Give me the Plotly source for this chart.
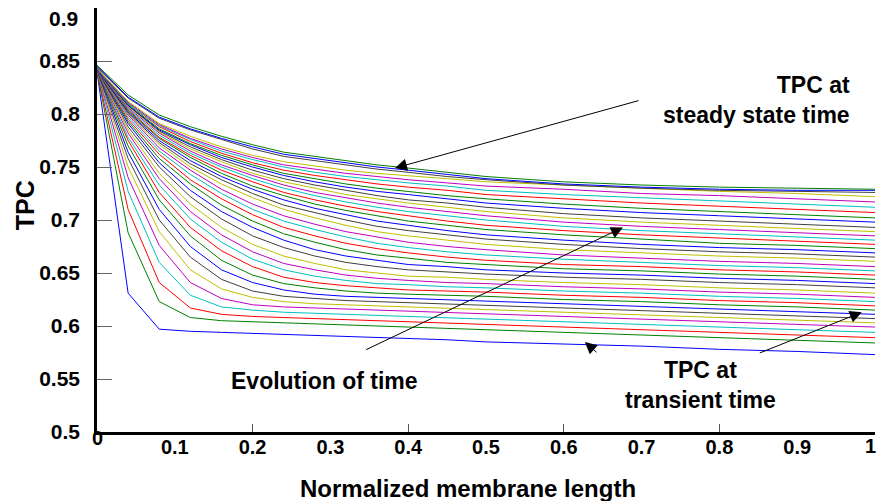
import plotly.graph_objects as go

# Normalized membrane length grid
x_norm = [0, 0.04, 0.08, 0.12, 0.16, 0.20, 0.24, 0.28, 0.32, 0.36, 0.40, 0.45, 0.50, 0.60, 0.70, 0.80, 0.90, 1.00]

# TPC profiles, earliest (transient) to latest (steady state)
tpc_t01 = [.840, .631, .597, .595, .594, .593, .592, .591, .590, .589, .588, .587, .585, .583, .581, .578, .576, .573]
tpc_t02 = [.840, .688, .623, .608, .605, .604, .603, .602, .601, .600, .599, .598, .597, .594, .592, .589, .587, .584]
tpc_t03 = [.840, .710, .641, .617, .611, .609, .608, .607, .606, .605, .604, .603, .602, .599, .597, .594, .592, .589]
tpc_t04 = [.841, .727, .660, .629, .618, .615, .613, .612, .611, .610, .609, .608, .607, .604, .602, .599, .597, .594]
tpc_t05 = [.841, .740, .676, .641, .626, .620, .618, .617, .616, .615, .614, .613, .612, .609, .607, .604, .602, .599]
tpc_t06 = [.841, .750, .689, .653, .635, .627, .623, .621, .620, .619, .618, .617, .616, .613, .611, .608, .606, .603]
tpc_t07 = [.841, .758, .700, .665, .644, .633, .628, .626, .624, .623, .622, .621, .620, .617, .615, .612, .610, .607]
tpc_t08 = [.842, .764, .710, .675, .653, .641, .634, .630, .628, .627, .626, .625, .624, .621, .619, .616, .614, .611]
tpc_t09 = [.842, .770, .719, .685, .662, .648, .640, .636, .633, .631, .630, .629, .628, .625, .623, .620, .618, .615]
tpc_t10 = [.842, .775, .726, .693, .671, .656, .646, .641, .638, .636, .634, .633, .632, .629, .627, .624, .622, .619]
tpc_t11 = [.842, .778, .733, .701, .679, .663, .653, .647, .643, .640, .639, .637, .636, .633, .631, .628, .626, .623]
tpc_t12 = [.842, .782, .739, .708, .686, .670, .659, .653, .648, .645, .643, .641, .640, .637, .635, .632, .630, .627]
tpc_t13 = [.842, .785, .744, .715, .693, .677, .666, .659, .653, .650, .647, .646, .644, .641, .639, .636, .634, .631]
tpc_t14 = [.842, .788, .750, .722, .701, .685, .674, .666, .660, .656, .653, .651, .649, .646, .644, .641, .639, .636]
tpc_t15 = [.842, .791, .754, .728, .708, .693, .681, .672, .666, .662, .658, .656, .653, .650, .648, .645, .643, .640]
tpc_t16 = [.842, .793, .758, .734, .714, .699, .687, .679, .672, .667, .664, .660, .658, .654, .652, .649, .647, .644]
tpc_t17 = [.842, .795, .762, .738, .720, .705, .693, .685, .678, .673, .669, .665, .662, .658, .656, .653, .651, .648]
tpc_t18 = [.842, .797, .765, .743, .725, .710, .699, .691, .684, .678, .674, .670, .667, .663, .660, .657, .655, .652]
tpc_t19 = [.842, .799, .768, .747, .729, .715, .704, .696, .689, .684, .679, .675, .672, .667, .664, .661, .659, .656]
tpc_t20 = [.842, .800, .771, .750, .734, .721, .710, .702, .695, .689, .685, .681, .677, .672, .669, .666, .664, .661]
tpc_t21 = [.842, .801, .773, .753, .738, .725, .714, .707, .700, .694, .690, .686, .682, .677, .673, .670, .668, .665]
tpc_t22 = [.842, .802, .775, .756, .741, .729, .719, .711, .705, .699, .695, .690, .686, .681, .677, .674, .672, .669]
tpc_t23 = [.843, .803, .777, .759, .744, .732, .723, .715, .709, .704, .699, .695, .691, .686, .682, .678, .676, .673]
tpc_t24 = [.843, .804, .778, .761, .747, .736, .726, .719, .713, .708, .704, .699, .695, .690, .686, .683, .680, .677]
tpc_t25 = [.843, .805, .780, .763, .750, .739, .730, .723, .717, .712, .708, .704, .700, .694, .690, .687, .684, .681]
tpc_t26 = [.843, .806, .782, .765, .752, .742, .733, .726, .721, .716, .712, .708, .704, .698, .694, .691, .688, .685]
tpc_t27 = [.843, .807, .783, .767, .755, .744, .736, .730, .724, .720, .716, .712, .708, .702, .698, .695, .692, .689]
tpc_t28 = [.843, .808, .784, .769, .757, .747, .739, .733, .728, .723, .719, .716, .712, .706, .702, .699, .696, .693]
tpc_t29 = [.843, .808, .785, .771, .759, .750, .742, .736, .731, .727, .724, .720, .716, .711, .707, .704, .701, .698]
tpc_t30 = [.843, .809, .786, .772, .761, .752, .744, .739, .734, .730, .727, .723, .720, .715, .711, .708, .705, .702]
tpc_t31 = [.843, .810, .788, .774, .763, .754, .747, .742, .738, .734, .731, .728, .724, .720, .716, .713, .710, .707]
tpc_t32 = [.843, .810, .789, .776, .765, .757, .750, .745, .741, .738, .735, .732, .728, .724, .721, .718, .715, .712]
tpc_t33 = [.843, .811, .790, .777, .767, .759, .752, .748, .744, .741, .738, .735, .732, .729, .725, .723, .720, .717]
tpc_t34 = [.843, .812, .791, .779, .769, .761, .755, .751, .747, .744, .742, .739, .736, .733, .730, .727, .725, .722]
tpc_t35 = [.844, .815, .796, .785, .776, .767, .760, .756, .752, .748, .745, .741, .738, .733, .730, .728, .727, .726]
tpc_t36 = [.845, .816, .797, .786, .777, .769, .762, .758, .754, .750, .747, .743, .739, .734, .731, .729, .728, .728]
tpc_t37 = [.846, .818, .799, .788, .779, .771, .764, .760, .756, .752, .749, .745, .741, .736, .733, .731, .730, .729]

curves = [tpc_t01, tpc_t02, tpc_t03, tpc_t04, tpc_t05, tpc_t06, tpc_t07, tpc_t08, tpc_t09, tpc_t10,
          tpc_t11, tpc_t12, tpc_t13, tpc_t14, tpc_t15, tpc_t16, tpc_t17, tpc_t18, tpc_t19, tpc_t20,
          tpc_t21, tpc_t22, tpc_t23, tpc_t24, tpc_t25, tpc_t26, tpc_t27, tpc_t28, tpc_t29, tpc_t30,
          tpc_t31, tpc_t32, tpc_t33, tpc_t34, tpc_t35, tpc_t36, tpc_t37]

# MATLAB classic color order
line_colors = ['#0000FF', '#008000', '#FF0000', '#00BFBF', '#BF00BF', '#BFBF00', '#404040']

x_tick_vals = [0.1, 0.2, 0.3, 0.4, 0.5, 0.6, 0.7, 0.8, 0.9]
x_tick_text = ['0.1', '0.2', '0.3', '0.4', '0.5', '0.6', '0.7', '0.8', '0.9']
x_minor_ticks = [0.2, 0.4, 0.6, 0.8]
y_tick_vals = [0.5, 0.55, 0.6, 0.65, 0.7, 0.75, 0.8, 0.85, 0.9]
y_tick_text = ['0.5', '0.55', '0.6', '0.65', '0.7', '0.75', '0.8', '0.85', '']

FONT = 'Liberation Sans, Arial, sans-serif'

fig = go.Figure()
n = len(curves)
for i, yv in enumerate(curves):
    fig.add_trace(go.Scatter(
        x=x_norm, y=yv, mode='lines',
        line=dict(color=line_colors[i % len(line_colors)], width=1),
        showlegend=False, hoverinfo='skip',
        xaxis='x2' if i == n - 1 else 'x'))

fig.update_layout(
    width=878, height=501,
    margin=dict(l=97, r=3, t=8, b=69),
    paper_bgcolor='white', plot_bgcolor='white',
    xaxis=dict(range=[0, 1], tickvals=x_tick_vals, ticktext=x_tick_text,
               ticks='', showgrid=False, zeroline=False,
               showline=True, linecolor='black', linewidth=2.5,
               tickfont=dict(family=FONT, size=20, color='black', weight='bold'),
               ticklabelstandoff=-5),
    xaxis2=dict(range=[0, 1], overlaying='x', anchor='y', side='bottom',
                tickvals=x_minor_ticks, ticks='inside', ticklen=8, tickwidth=1,
                tickcolor='#555555', showticklabels=False, showgrid=False,
                zeroline=False, showline=False),
    yaxis=dict(range=[0.5, 0.9], tickvals=y_tick_vals, ticktext=y_tick_text,
               ticks='inside', ticklen=15, tickwidth=1, tickcolor='#666666',
               showgrid=False, zeroline=False,
               showline=True, linecolor='black', linewidth=2.5,
               tickfont=dict(family=FONT, size=21, color='black', weight='bold'),
               ticklabelstandoff=10),
)

tick_font = dict(family=FONT, size=21, color='black', weight='bold')
xtick_font = dict(family=FONT, size=20, color='black', weight='bold')
bold = dict(family=FONT, size=23, color='black', weight='bold')

# Edge tick labels placed as in the original figure
fig.add_annotation(text='0.9', xref='paper', yref='paper', x=-0.0219, y=0.976,
                   xanchor='right', yanchor='middle', showarrow=False, font=tick_font)
fig.add_annotation(text='0', xref='paper', yref='paper', x=0.0, y=-0.0142,
                   xanchor='center', yanchor='middle', showarrow=False, font=xtick_font)
fig.add_annotation(text='1', xref='paper', yref='paper', x=0.9936, y=-0.033,
                   xanchor='center', yanchor='middle', showarrow=False, font=xtick_font)

# Axis titles
fig.add_annotation(text='Normalized membrane length', xref='paper', yref='paper',
                   x=0.477, y=-0.134, xanchor='center', yanchor='middle', showarrow=False,
                   font=dict(family=FONT, size=24, color='black', weight='bold'))
fig.add_annotation(text='TPC', xref='paper', yref='paper', x=-0.0925, y=0.535,
                   xanchor='center', yanchor='middle', textangle=-90, showarrow=False,
                   font=dict(family=FONT, size=25, color='black', weight='bold'))

# Text labels
fig.add_annotation(text='TPC at<br>steady state time', xref='x', yref='y', x=0.970, y=0.813,
                   xanchor='right', yanchor='middle', align='right', showarrow=False, font=bold)
fig.add_annotation(text='Evolution of time', xref='x', yref='y', x=0.293, y=0.548,
                   xanchor='center', yanchor='middle', showarrow=False, font=bold)
fig.add_annotation(text='TPC at<br>transient time', xref='x', yref='y', x=0.776, y=0.544,
                   xanchor='center', yanchor='middle', align='center', showarrow=False, font=bold)

# Arrows (head at x,y ; tail at ax,ay)
arrows = [
    (0.383, 0.749, 0.698, 0.813),
    (0.676, 0.693, 0.344, 0.577),
    (0.983, 0.613, 0.850, 0.574),
    (0.627, 0.585, 0.644, 0.574),
]
for hx, hy, tx, ty in arrows:
    fig.add_annotation(x=hx, y=hy, ax=tx, ay=ty, xref='x', yref='y', axref='x', ayref='y',
                       text='', showarrow=True, arrowhead=2, arrowsize=2.4, arrowwidth=1,
                       arrowcolor='black')

fig.write_html('out.html')
